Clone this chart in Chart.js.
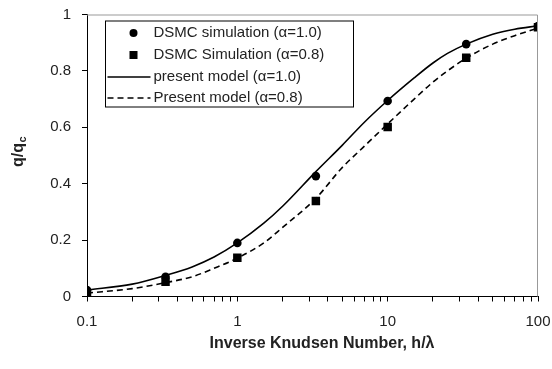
<!DOCTYPE html>
<html>
<head>
<meta charset="utf-8">
<script src="https://cdn.jsdelivr.net/npm/chart.js@4"></script>
<style>
  html, body { margin: 0; padding: 0; background: #fff; }
  #wrap { width: 552px; height: 369px; position: relative; }
</style>
</head>
<body>
<div id="wrap"><canvas id="chart"></canvas></div>
<script>
// Valeurs
const dsmcX = [0.1, 0.333, 1, 3.33, 10, 33.3, 100];
const dsmcA10 = [0.023, 0.07, 0.19, 0.427, 0.693, 0.895, 0.959];
const dsmcA08 = [0.012, 0.052, 0.137, 0.339, 0.601, 0.847, 0.955];

const modelX = [0.1, 0.2, 0.333, 0.5, 0.7, 1, 1.5, 2, 3.33, 5, 7, 10, 15, 20, 25, 33.3, 50, 70, 100];
const modelA10 = [0.023, 0.044, 0.075, 0.105, 0.14, 0.19, 0.26, 0.32, 0.443, 0.537, 0.618, 0.695, 0.775, 0.828, 0.862, 0.895, 0.93, 0.948, 0.96];
const modelA08 = [0.012, 0.028, 0.049, 0.07, 0.1, 0.136, 0.19, 0.245, 0.348, 0.458, 0.533, 0.612, 0.7, 0.76, 0.8, 0.845, 0.895, 0.925, 0.952];

const xTicks = [0.1, 0.2, 0.3, 0.4, 0.5, 0.6, 0.7, 0.8, 0.9,
                1, 2, 3, 4, 5, 6, 7, 8, 9,
                10, 20, 30, 40, 50, 60, 70, 80, 90, 100];
const xTickLabels = { 0.1: '0.1', 1: '1', 10: '10', 100: '100' };

const legendLabels = [
    'DSMC simulation (\u03b1=1.0)',
    'DSMC Simulation (\u03b1=0.8)',
    'present model (\u03b1=1.0)',
    'Present model (\u03b1=0.8)',
];

const pts = (xs, ys) => xs.map((x, i) => ({ x, y: ys[i] }));
const FONT = '"Liberation Sans", Arial, sans-serif';
const INK = '#222';

// cadre gris haut/droite + titres + légende dessinée dans la zone
const decor = {
    id: 'decor',
    afterDraw(chart) {
        const { ctx, chartArea: a } = chart;
        ctx.save();
        ctx.strokeStyle = '#999';
        ctx.lineWidth = 1;
        ctx.beginPath();
        ctx.moveTo(a.left, a.top + 0.5);
        ctx.lineTo(a.right - 0.5, a.top + 0.5);
        ctx.lineTo(a.right - 0.5, a.bottom);
        ctx.stroke();

        // titre axe x
        ctx.fillStyle = INK;
        ctx.font = 'bold 16px ' + FONT;
        ctx.textAlign = 'center';
        ctx.textBaseline = 'middle';
        ctx.fillText('Inverse Knudsen Number, h/\u03bb', 322, 344);

        // titre axe y avec indice
        ctx.save();
        ctx.translate(23, 167);
        ctx.rotate(-Math.PI / 2);
        ctx.textAlign = 'left';
        ctx.textBaseline = 'alphabetic';
        ctx.font = 'bold 16px ' + FONT;
        ctx.fillText('q/q', 0, 0);
        const w = ctx.measureText('q/q').width;
        ctx.font = 'bold 11px ' + FONT;
        ctx.fillText('c', w + 0.5, 3);
        ctx.restore();

        // légende
        const bx = a.left + 18.5, by = a.top + 6.5, bw = 248, bh = 86;
        ctx.strokeStyle = '#000';
        ctx.strokeRect(bx, by, bw, bh);
        ctx.font = '15px ' + FONT;
        ctx.textAlign = 'left';
        ctx.textBaseline = 'middle';
        const rows = [by + 12, by + 34, by + 56, by + 77];
        chart.data.datasets.forEach((ds, i) => {
            const y = rows[i];
            ctx.fillStyle = '#000';
            ctx.strokeStyle = '#000';
            if (ds.showLine) {
                ctx.lineWidth = 1.5;
                ctx.setLineDash(ds.borderDash || []);
                ctx.beginPath();
                ctx.moveTo(bx + 2, y);
                ctx.lineTo(bx + 45, y);
                ctx.stroke();
                ctx.setLineDash([]);
            } else if (ds.pointStyle === 'rect') {
                ctx.fillRect(bx + 24, y - 4, 8, 8);
            } else {
                ctx.beginPath();
                ctx.arc(bx + 28, y, 4, 0, Math.PI * 2);
                ctx.fill();
            }
            ctx.fillStyle = INK;
            ctx.fillText(legendLabels[i], bx + 48, y);
        });
        ctx.restore();
    },
};

new Chart(document.getElementById('chart'), {
    type: 'scatter',
    data: {
        datasets: [
            {
                data: pts(dsmcX, dsmcA10),
                pointStyle: 'circle',
                pointRadius: 4.3,
                backgroundColor: '#000',
                borderColor: '#000',
                borderWidth: 0,
            },
            {
                data: pts(dsmcX, dsmcA08),
                pointStyle: 'rect',
                pointRadius: 6,
                backgroundColor: '#000',
                borderColor: '#000',
                borderWidth: 0,
            },
            {
                data: pts(modelX, modelA10),
                showLine: true,
                pointRadius: 0,
                borderColor: '#000',
                borderWidth: 1.6,
                cubicInterpolationMode: 'monotone',
            },
            {
                data: pts(modelX, modelA08),
                showLine: true,
                pointRadius: 0,
                borderColor: '#000',
                borderWidth: 1.6,
                borderDash: [6, 4],
                cubicInterpolationMode: 'monotone',
            },
        ],
    },
    options: {
        responsive: true,
        maintainAspectRatio: false,
        animation: false,
        layout: { padding: { left: 0, right: 14, top: 14.5, bottom: 0 } },
        scales: {
            x: {
                type: 'logarithmic',
                min: 0.1,
                max: 100,
                afterBuildTicks: (s) => { s.ticks = xTicks.map(v => ({ value: v })); },
                afterFit: (s) => { s.height = 72.5; s.paddingLeft = 0; s.paddingRight = 0; },
                grid: { drawOnChartArea: false, tickLength: 5, color: '#000' },
                border: { color: '#000' },
                ticks: {
                    autoSkip: false,
                    maxRotation: 0,
                    padding: 11,
                    color: INK,
                    font: { family: FONT, size: 15 },
                    callback: (v) => xTickLabels[v] || '',
                },
            },
            y: {
                min: 0,
                max: 1,
                afterFit: (s) => { s.width = 87; s.paddingTop = 0; s.paddingBottom = 0; },
                grid: { drawOnChartArea: false, tickLength: 5, color: '#000' },
                border: { color: '#000' },
                ticks: {
                    stepSize: 0.2,
                    padding: 11,
                    color: INK,
                    font: { family: FONT, size: 15 },
                    callback: (v) => String(parseFloat(v.toFixed(1))),
                },
            },
        },
        plugins: {
            legend: { display: false },
            tooltip: { enabled: false },
        },
    },
    plugins: [decor],
});
</script>
</body>
</html>
